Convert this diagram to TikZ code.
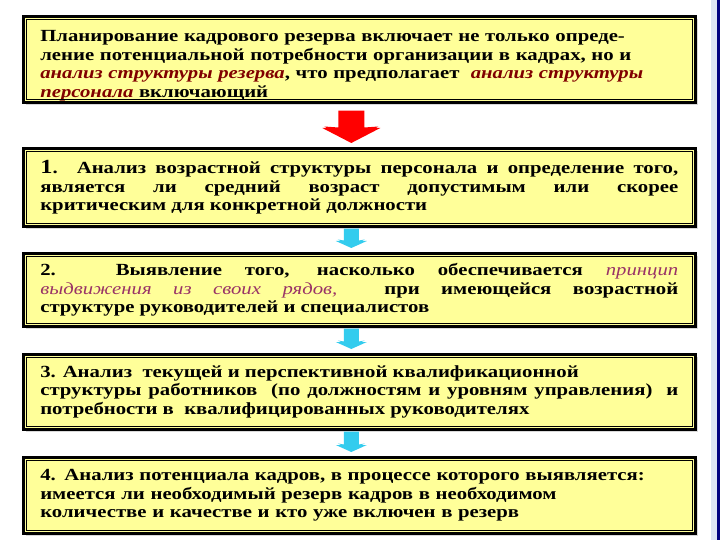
\documentclass[tikz,border=0pt]{standalone}
\usepackage{fontspec}
\setmainfont{Liberation Serif}[FakeStretch=1.22]
\usetikzlibrary{calc,shadows}
\definecolor{boxyellow}{HTML}{FFFF99}
\definecolor{darkred}{HTML}{800000}
\definecolor{plum}{HTML}{993366}
\definecolor{arrowcyan}{HTML}{33CCEE}
\definecolor{arrowred}{HTML}{FF0000}
\definecolor{navyline}{HTML}{000080}
\definecolor{stripblue}{HTML}{DCE4F4}
\newcommand\blockarrow[7]{% from, to, fill, shaft half, head half, head height, gap
  \path let \p1=([xshift=-8bp,yshift=-#7]#1.south), \p2=([xshift=-8bp,yshift=5bp]#2.north) in
    [fill=black!75] (\x1-#4,\y1) -- (\x1+#4,\y1) -- (\x1+#4,\y2+#6) -- (\x1+#5+1bp,\y2+#6) -- (\x1,\y2-1bp) -- (\x1-#5-1bp,\y2+#6) -- (\x1-#4,\y2+#6) -- cycle
    [fill=#3] (\x1-#4,\y1) -- (\x1+#4,\y1) -- (\x1+#4,\y2+#6+0.5bp) -- (\x1+#5-1bp,\y2+#6+1.5bp) -- (\x1,\y2+1.5bp) -- (\x1-#5+1bp,\y2+#6+1.5bp) -- (\x1-#4,\y2+#6+0.5bp) -- cycle;}
\begin{document}
\begin{tikzpicture}[x=1bp,y=-1bp,
  box/.style={draw=black, line width=2.6bp, fill=boxyellow, anchor=north west,
    minimum width=672bp, text width=638bp, inner xsep=17bp, inner ysep=0pt,
    font=\fontsize{17bp}{18.6bp}\selectfont\bfseries,
    drop shadow={shadow xshift=3bp, shadow yshift=-3bp, fill=black!15, opacity=1}}]
\useasboundingbox (0,0) rectangle (720,540);
\fill[white] (0,0) rectangle (720,540);
\fill[stripblue] (711,0) rectangle (717,540);
\fill[navyline] (717,0) rectangle (719.5,540);

\node[box, minimum height=86bp, align=left] (b1) at (22,15)
  {\rule{0pt}{24bp}Планирование кадрового резерва включает не только опреде-\\
   ление потенциальной потребности организации в кадрах, но и\\
   {\color{darkred}\itshape анализ структуры резерва}, что предполагает \ {\color{darkred}\itshape анализ структуры}\\
   {\color{darkred}\itshape персонала} включающий};

\node[box, minimum height=78bp, align=justify] (b2) at (22,147)
  {{\fontsize{20bp}{18.6bp}\selectfont 1}. Анализ возрастной структуры персонала и определение того,\linebreak
   является ли средний возраст допустимым или скорее\linebreak
   критическим для конкретной должности};

\node[box, minimum height=73bp, align=justify] (b3) at (22,252)
  {2. Выявление того, насколько обеспечивается {\color{plum}\mdseries\itshape принцип}\linebreak
   {\color{plum}\mdseries\itshape выдвижения из своих рядов,} \ при имеющейся возрастной\linebreak
   структуре руководителей и специалистов};

\node[box, minimum height=75bp, align=justify] (b4) at (22,353)
  {3. Анализ \ текущей и перспективной квалификационной\newline
   структуры работников \ (по должностям и уровням управления) \ и\linebreak
   потребности в \ квалифицированных руководителях};

\node[box, minimum height=76bp, align=left] (b5) at (22,456)
  {4. Анализ потенциала кадров, в процессе которого выявляется:\\
   имеется ли необходимый резерв кадров в необходимом\\
   количестве и качестве и кто уже включен в резерв};

\foreach \n in {b1,b2,b3,b4,b5}
  \draw[line width=0.9bp] ([shift={(4bp,-4bp)}]\n.north west) rectangle ([shift={(-4bp,4bp)}]\n.south east);

\blockarrow{b1}{b2}{arrowred}{13bp}{28bp}{14bp}{7bp}
\blockarrow{b2}{b3}{arrowcyan}{7.5bp}{14.5bp}{6bp}{1bp}
\blockarrow{b3}{b4}{arrowcyan}{7.5bp}{14.5bp}{6bp}{1bp}
\blockarrow{b4}{b5}{arrowcyan}{7.5bp}{14.5bp}{6bp}{1bp}
\end{tikzpicture}
\end{document}
